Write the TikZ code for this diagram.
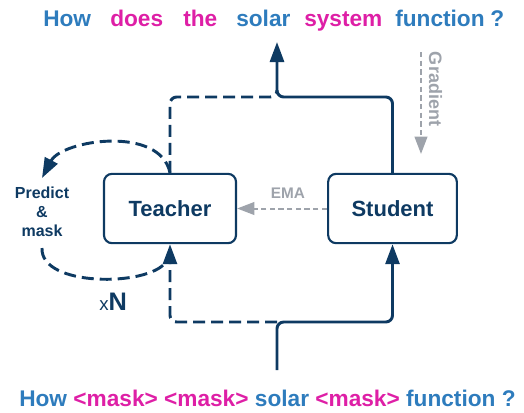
\documentclass[tikz,border=0pt]{standalone}
\usepackage{fontspec}
\setmainfont{Liberation Sans}
\usetikzlibrary{arrows.meta}
\definecolor{navy}{HTML}{0E3A62}
\definecolor{wblue}{HTML}{2E7CBD}
\definecolor{wmag}{HTML}{DE1FA6}
\definecolor{lgray}{HTML}{9EA3AB}
\tikzset{
  box/.style={draw=navy, line width=1.6pt, rounded corners=6pt, minimum width=99pt, minimum height=52pt, font=\fontsize{16.5}{18}\selectfont\bfseries, text=navy},
  solidline/.style={draw=navy, line width=2.2pt, rounded corners=5pt},
  dashline/.style={draw=navy, line width=2.2pt, rounded corners=5pt, dash pattern=on 9pt off 4.5pt},
  navyarrow/.style={-{Triangle[length=15pt,width=10.5pt]}},
  grayline/.style={draw=lgray, line width=1.5pt, dash pattern=on 4pt off 2.5pt},
  grayarrow/.style={-{Triangle[length=13pt,width=9.5pt]}},
  word/.style={anchor=base west, font=\fontsize{17}{20}\selectfont\bfseries, inner sep=0pt},
  glabel/.style={text=lgray, font=\fontsize{11.5}{13}\selectfont\bfseries, inner sep=0pt}
}
\begin{document}
\begin{tikzpicture}[x=0.75pt,y=-0.75pt]
\useasboundingbox (0,0) rectangle (524,412);

% top sentence
\node[word, text=wblue] (w1) at (43,26) {How};
\node[word, text=wmag] (w2) at (110,26) {does};
\node[word, text=wmag] (w3) at (183,26) {the};
\node[word, text=wblue] (w4) at (236,26) {solar};
\node[word, text=wmag] (w5) at (304,26) {system};
\node[word, text=wblue] (w6) at (395,26) {function};
\node[word, text=wblue] (w7) at (490,26) {?};

% bottom sentence
\node[word] (bottom) at (19,406) {\textcolor{wblue}{How} \textcolor{wmag}{<mask>} \textcolor{wmag}{<mask>} \textcolor{wblue}{solar} \textcolor{wmag}{<mask>} \textcolor{wblue}{function ?}};

% boxes
\node[box] (teacher) at (170,208.5) {Teacher};
\node[box, minimum width=96.5pt] (student) at (392.5,208.5) {Student};

\coordinate (top) at (277,42);
\coordinate (bot) at (277,370);

% top connectors
\draw[dashline] (teacher.north) |- (277,97) -- (277,90);
\draw[solidline, navyarrow] (student.north) |- (277,97) -- (top);

% bottom connectors
\draw[solidline, navyarrow] (bot) -- (277,322) -| (student.south);
\draw[dashline, navyarrow] (277,322) -| (teacher.south);

% predict & mask loop
\draw[dashline, navyarrow] (teacher.north) .. controls (160,125) and (62,140) .. (42,178);
\draw[dashline] (42,248) .. controls (40,287) and (148,287) .. (166,262);
\node[text=navy, align=center, font=\fontsize{12}{14.3}\selectfont\bfseries, inner sep=0pt] (pm) at (42,212) {Predict\\\&\\mask};

% xN
\node[anchor=base west, text=navy, inner sep=0pt] (xn) at (99,310) {{\fontsize{14}{14}\selectfont x}{\fontsize{19}{18}\selectfont\bfseries N}};

% EMA
\draw[grayline, grayarrow] (student.west) -- (teacher.east);
\node[glabel] (ema) at (288,193) {EMA};

% Gradient
\coordinate (gs) at (421,52);
\coordinate (ge) at (421,154);
\draw[grayline, grayarrow] (gs) -- (ge);
\node[glabel, font=\fontsize{13.5}{15}\selectfont\bfseries, rotate=-90] (grad) at (435.5,89) {Gradient};
\end{tikzpicture}
\end{document}
